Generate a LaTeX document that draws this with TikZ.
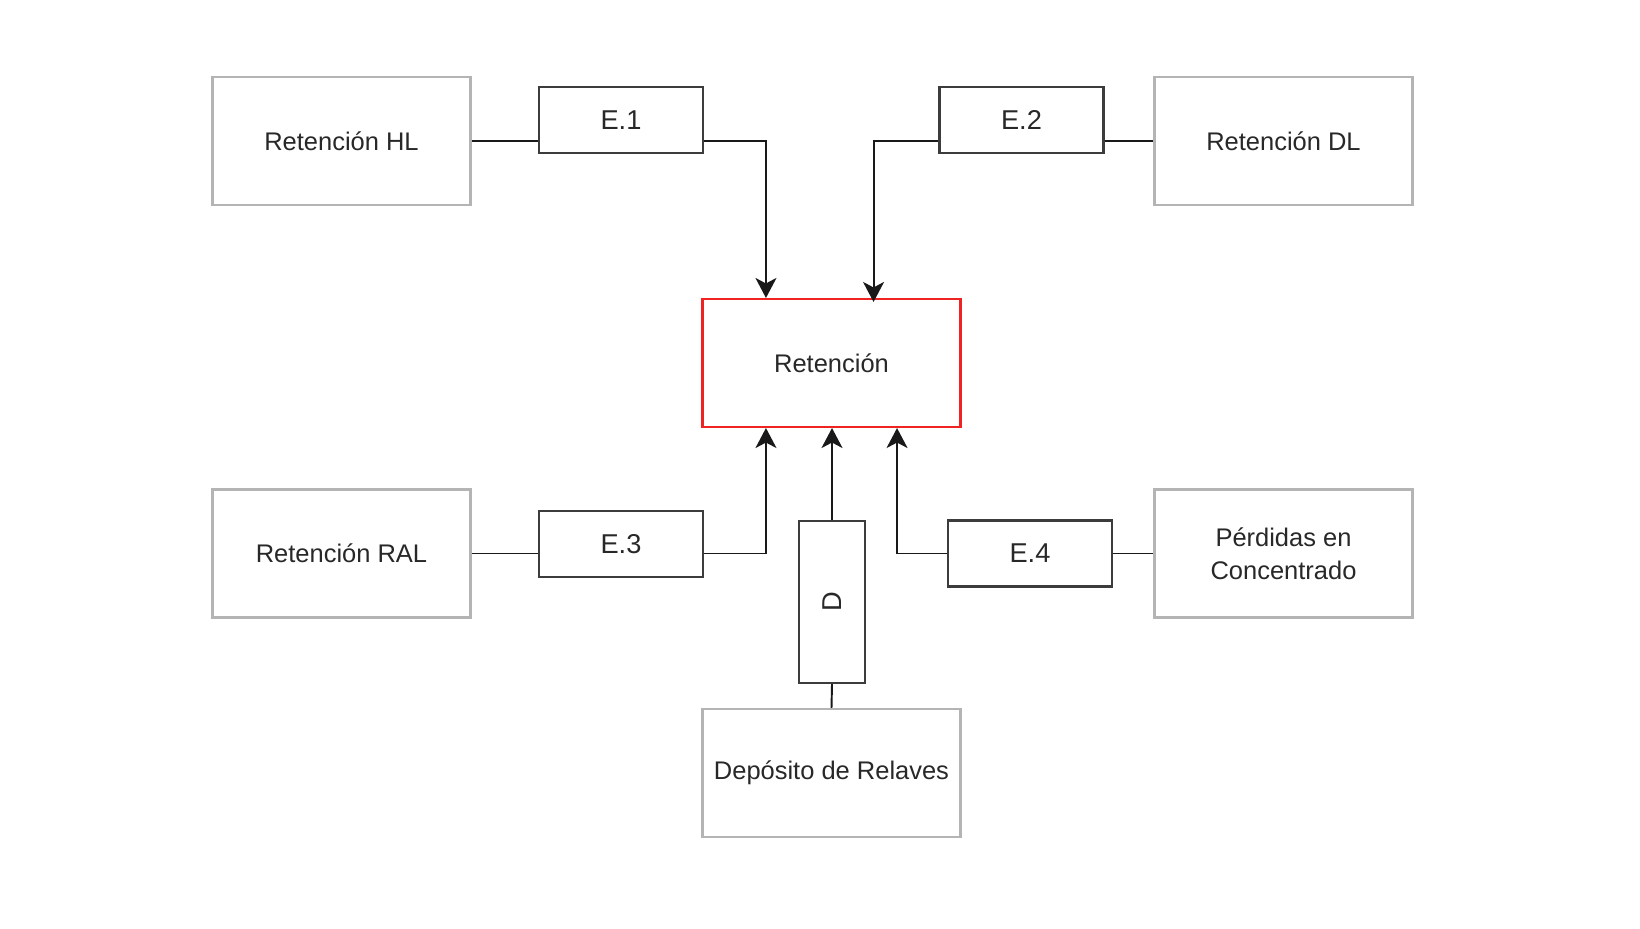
\documentclass[tikz,border=0pt]{standalone}
\usepackage{fontspec}
\setmainfont{Liberation Sans}
\usetikzlibrary{arrows.meta,positioning}
\definecolor{boxgray}{RGB}{180,180,180}
\definecolor{txtgray}{RGB}{40,40,40}
\definecolor{lingray}{RGB}{25,25,25}
\definecolor{retred}{RGB}{240,35,35}

\begin{document}
\begin{tikzpicture}[x=0.02cm,y=-0.02cm]
	\tikzstyle{every node}=[font=\fontsize{14.5}{18.5}\selectfont,text=txtgray];
	\tikzstyle{src}=[draw=boxgray,line width=1.2pt,rectangle,align=center,minimum width=5.16cm,minimum height=2.56cm];
	\tikzstyle{est}=[draw=lingray!85!white,line width=1.4pt,rectangle,minimum width=3.28cm,minimum height=1.32cm,font=\fontsize{15.5}{18}\selectfont];
	\tikzstyle{lnk}=[draw,line width=1.1pt,color=lingray];
	\tikzstyle{pth}=[lnk,-{Stealth[length=4mm,width=4.2mm,inset=1.1mm]}];
	\useasboundingbox (0,0) rectangle (1640,929);
	% fuentes y estaciones
	\node (hl) [src] at (341.5,141) {Retención HL};
	\node (e1) [est] at (621,120) {E.1};
	\node (e2) [est] at (1021.5,120) {E.2};
	\node (dl) [src] at (1283.5,141) {Retención DL};
	\node (ret) [src,draw=retred] at (831.5,363) {Retención};
	\node (ral) [src] at (341.5,553.5) {Retención RAL};
	\node (e3) [est] at (621,544) {E.3};
	\node (d) [est,rotate=90,minimum width=3.24cm] at (832,602) {D};
	\node (e4) [est] at (1030,553.5) {E.4};
	\node (per) [src] at (1283.5,553.5) {Pérdidas en\\Concentrado};
	\node (dep) [src] at (831.5,773) {Depósito de Relaves};
	% conexiones
	\draw[lnk] (hl.east) -- (hl.east -| e1.west);
	\draw[pth] (e1.east |- hl.east) -| ([xshift=1.29cm]ret.north west);
	\draw[pth] (e2.west |- dl.west) -| ([xshift=-1.76cm,yshift=-0.08cm]ret.north east);
	\draw[lnk] (e2.east |- dl.west) -- (dl.west);
	\draw[lnk] (ral.east) -- (ral.east -| e3.west);
	\draw[pth] (e3.east |- ral.east) -| ([xshift=1.29cm]ret.south west);
	\draw[pth] (d.east) -- (d.east |- ret.south);
	\draw[pth] (e4.west) -| ([xshift=-1.29cm]ret.south east);
	\draw[lnk] (e4.east) -- (per.west);
	\draw[lnk] (dep.north) -- (d.west);
\end{tikzpicture}
\end{document}
